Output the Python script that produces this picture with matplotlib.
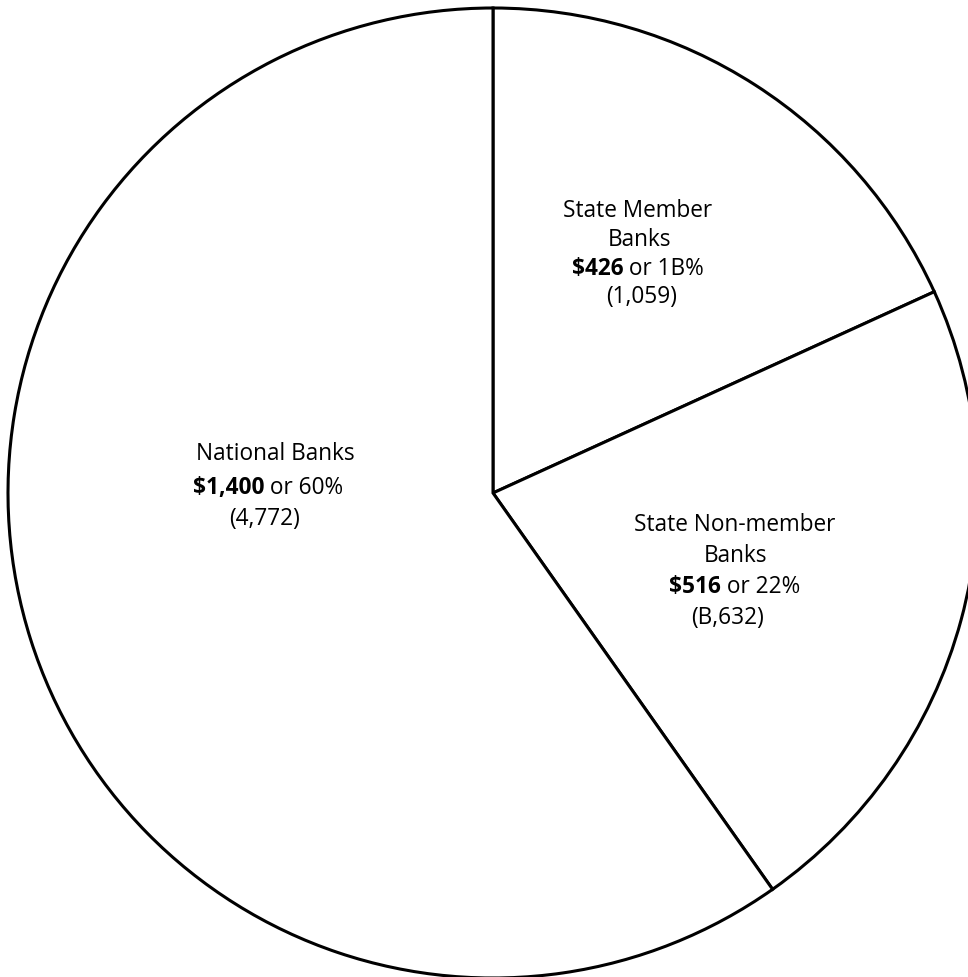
import matplotlib
matplotlib.use("Agg")
import matplotlib.pyplot as plt

categories = ["State Member\nBanks", "State Non-member\nBanks", "National Banks"]
assets = [426, 516, 1400]
amount_labels = ["$426", "$516", "$1,400"]
pct_labels = ["or 1B%", "or 22%", "or 60%"]
count_labels = ["(1,059)", "(B,632)", "(4,772)"]

W, H = 968, 978
fig = plt.figure(figsize=(W / 100, H / 100), dpi=100)
ax = fig.add_axes([0, 0, 1, 1])

cx, cy, r = 493, H - 494, 485
ax.pie(assets, startangle=90, counterclock=False, center=(cx, cy), radius=r,
       colors=["white"] * 3,
       wedgeprops=dict(edgecolor="black", linewidth=2.2),
       frame=True)
ax.set_xlim(0, W)
ax.set_ylim(0, H)
ax.set_aspect("equal")
ax.axis("off")

FONT = "Open Sans"
FS = 16.3

# label line layout (pixel positions from top)
layouts = [
    dict(name=[("State Member", 638, 211), ("Banks", 639, 240)], money=(638, 269), count=(642, 297)),
    dict(name=[("State Non-member", 735, 525), ("Banks", 736, 556)], money=(735, 587), count=(727, 618)),
    dict(name=[("National Banks", 275, 454)], money=(268, 488), count=(265, 519)),
]

fig.canvas.draw()
renderer = fig.canvas.get_renderer()

for i, lay in enumerate(layouts):
    for txt, x, y in lay["name"]:
        ax.text(x, H - y, txt, ha="center", va="center", fontsize=FS, family=FONT)
    mx, my = lay["money"]
    bold = amount_labels[i].replace("$", r"\$")
    rest = " " + pct_labels[i]
    t1 = ax.text(0, 0, bold, fontsize=FS, family=FONT, weight="bold")
    t2 = ax.text(0, 0, rest, fontsize=FS, family=FONT)
    w1 = t1.get_window_extent(renderer).width
    w2 = t2.get_window_extent(renderer).width
    left = mx - (w1 + w2) / 2
    t1.set_position((left, H - my))
    t1.set_ha("left"); t1.set_va("center")
    t2.set_position((left + w1, H - my))
    t2.set_ha("left"); t2.set_va("center")
    cxl, cyl = lay["count"]
    ax.text(cxl, H - cyl, count_labels[i], ha="center", va="center", fontsize=FS, family=FONT)

fig.savefig("out.png", dpi=100, facecolor="white")
